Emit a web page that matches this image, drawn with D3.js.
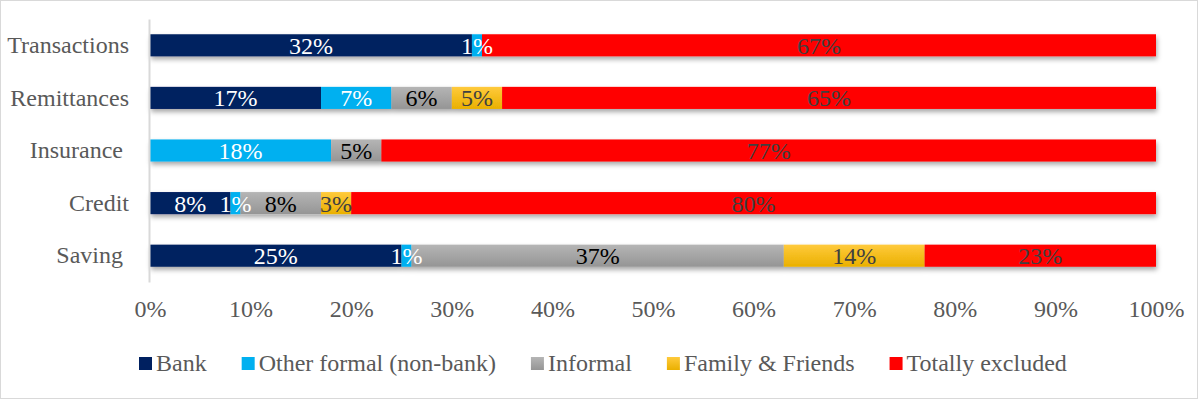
<!DOCTYPE html>
<html>
<head>
<meta charset="utf-8">
<script src="https://cdn.jsdelivr.net/npm/d3@7"></script>
<style>
  body { margin: 0; background: #fff; }
  svg text { font-family: "Times New Roman", "Liberation Serif", serif; }
</style>
</head>
<body>
<div id="chart"></div>
<script>
// Chart data (percent of adults)
const categories = ['Transactions', 'Remittances', 'Insurance ', 'Credit', 'Saving '];
const seriesNames = ['Bank', 'Other formal (non-bank)', 'Informal', 'Family & Friends', 'Totally excluded'];
const bank = [32, 17, 0, 8, 25];
const otherFormal = [1, 7, 18, 1, 1];
const informal = [0, 6, 5, 8, 37];
const family = [0, 5, 0, 3, 14];
const excluded = [67, 65, 77, 80, 23];
const xTicks = [0, 10, 20, 30, 40, 50, 60, 70, 80, 90, 100];

const width = 1198, height = 400;

// Series styling
const fills = ['#002060', '#00B0F0', 'url(#gradInformal)', 'url(#gradFamily)', '#FF0000'];
const labelColors = ['#ffffff', '#ffffff', '#000000', '#404040', '#404040'];

const rows = categories.map((c, i) => ({
    cat: c,
    s0: bank[i], s1: otherFormal[i], s2: informal[i], s3: family[i], s4: excluded[i]
}));
const keys = ['s0', 's1', 's2', 's3', 's4'];
const stacked = d3.stack().keys(keys)(rows);

const svg = d3.select('#chart').append('svg')
    .attr('width', width)
    .attr('height', height);

// Outer border
svg.append('rect')
    .attr('x', 0.5).attr('y', 0.5)
    .attr('width', width - 1).attr('height', height - 2)
    .attr('fill', '#fff')
    .attr('stroke', '#d9d9d9');

const defs = svg.append('defs');
const grad = (id, top, bottom) => {
    const g = defs.append('linearGradient').attr('id', id)
        .attr('x1', 0).attr('y1', 0).attr('x2', 0).attr('y2', 1);
    g.append('stop').attr('offset', '0%').attr('stop-color', top);
    g.append('stop').attr('offset', '100%').attr('stop-color', bottom);
};
grad('gradInformal', '#b5b5b5', '#959595');
grad('gradFamily', '#ffca3c', '#eab000');

defs.append('filter').attr('id', 'shadow')
    .attr('x', '-5%').attr('y', '-50%').attr('width', '110%').attr('height', '250%')
    .append('feDropShadow')
    .attr('dx', 1).attr('dy', 3)
    .attr('stdDeviation', 2.5)
    .attr('flood-color', '#000')
    .attr('flood-opacity', 0.35);

// Scales
const x = d3.scaleLinear().domain([0, 100]).range([150, 1156]);
const y = d3.scaleBand().domain(categories).range([19, 282])
    .paddingInner(0.58).paddingOuter(0.29);

// Bars
const barsG = svg.append('g').attr('filter', 'url(#shadow)');
barsG.selectAll('g.series')
    .data(stacked)
    .join('g')
    .attr('class', 'series')
    .attr('fill', (d, i) => fills[i])
    .selectAll('rect')
    .data(d => d.filter(p => p[1] - p[0] > 0))
    .join('rect')
    .attr('x', d => x(d[0]))
    .attr('y', d => y(d.data.cat))
    .attr('width', d => x(d[1]) - x(d[0]))
    .attr('height', y.bandwidth());

// Data labels
stacked.forEach((s, i) => {
    svg.append('g').selectAll('text')
        .data(s.filter(p => p[1] - p[0] > 0))
        .join('text')
        .attr('x', d => x((d[0] + d[1]) / 2))
        .attr('y', d => y(d.data.cat) + y.bandwidth() / 2)
        .attr('dy', '0.35em')
        .attr('text-anchor', 'middle')
        .style('font-size', '24px')
        .attr('fill', labelColors[i])
        .text(d => (d[1] - d[0]) + '%');
});

// Category axis
const yAxis = svg.append('g')
    .attr('transform', 'translate(149,0)')
    .call(d3.axisLeft(y).tickSize(0).tickSizeOuter(0).tickPadding(20));
yAxis.select('.domain').attr('stroke', '#d9d9d9').attr('stroke-width', 2);
yAxis.selectAll('text')
    .style('font-size', '24px')
    .style('white-space', 'pre')
    .attr('fill', '#595959');

// Value axis
const xAxis = svg.append('g')
    .attr('transform', 'translate(0,300)')
    .call(d3.axisBottom(x).tickValues(xTicks).tickSize(0).tickPadding(0)
        .tickFormat(d => d + '%'));
xAxis.select('.domain').remove();
xAxis.selectAll('text')
    .style('font-size', '24px')
    .attr('fill', '#595959');

// Legend
const legend = svg.append('g').attr('class', 'legend');
let lx = 139;
seriesNames.forEach((name, i) => {
    const item = legend.append('g').attr('transform', `translate(${lx},0)`);
    item.append('rect')
        .attr('x', 0).attr('y', 357)
        .attr('width', 13).attr('height', 13)
        .attr('fill', fills[i]);
    const t = item.append('text')
        .attr('x', 17).attr('y', 371)
        .style('font-size', '24px')
        .attr('fill', '#595959')
        .text(name);
    lx += 17 + t.node().getComputedTextLength() + 35;
});
</script>
</body>
</html>
